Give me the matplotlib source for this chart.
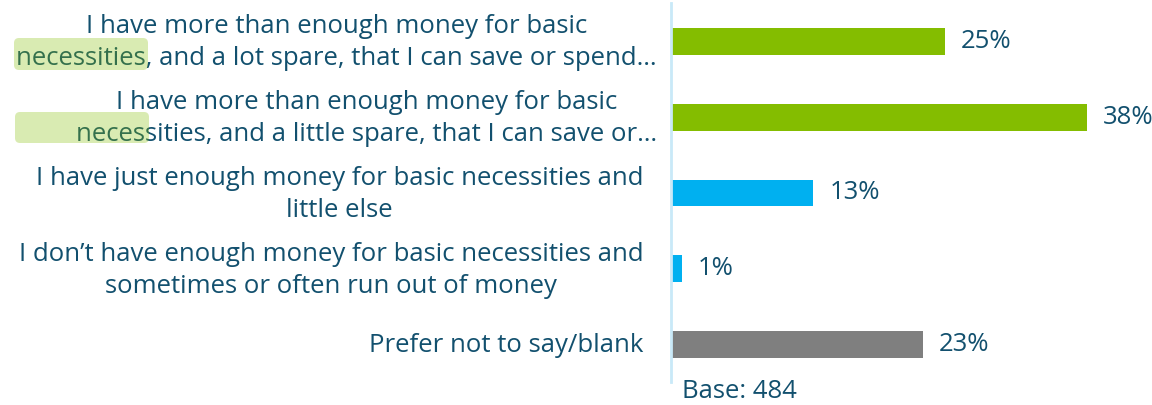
import matplotlib
matplotlib.use("Agg")
import matplotlib.pyplot as plt
from matplotlib.patches import FancyBboxPatch
from matplotlib.transforms import IdentityTransform, blended_transform_factory

plt.rcParams['font.family'] = ['Open Sans', 'DejaVu Sans']

categories = [
    "I have more than enough money for basic\nnecessities, and a lot spare, that I can save or spend\u2026",
    "I have more than enough money for basic\nnecessities, and a little spare, that I can save or\u2026",
    "I have just enough money for basic necessities and\nlittle else",
    "I don\u2019t have enough money for basic necessities and\nsometimes or often run out of money",
    "Prefer not to say/blank",
]
values = [25, 38, 13, 1, 23]
value_labels = ["25%", "38%", "13%", "1%", "23%"]
base_text = "Base: 484"

bar_colors = ["#84BD00", "#84BD00", "#00B0F0", "#00B0F0", "#7F7F7F"]
label_offsets_pt = [-10, -10, -20, -20, -20]
text_color = "#12506E"
fs = 18.5

W, H = 1152, 405
fig = plt.figure(figsize=(W / 100, H / 100), dpi=100)
ax = fig.add_axes([671 / W, 23 / H, 482 / W, 379 / H])

ypos = list(range(len(categories)))
ax.barh(ypos, values, height=0.356, color=bar_colors, left=0)
ax.set_xlim(0, 44)
ax.set_ylim(4.495, -0.508)

for s in ["top", "right", "bottom"]:
    ax.spines[s].set_visible(False)
ax.spines["left"].set_color("#C9E9F8")
ax.spines["left"].set_linewidth(2)
ax.set_xticks([])
ax.set_yticks([])

trans = blended_transform_factory(ax.transAxes, ax.transData)
for i, (lab, off) in enumerate(zip(categories, label_offsets_pt)):
    ax.annotate(lab, xy=(0, i), xycoords=trans, xytext=(off, -1),
                textcoords="offset points", ha="right", va="center",
                multialignment="center", fontsize=fs, color=text_color,
                linespacing=1.38)

for i, (v, t) in enumerate(zip(values, value_labels)):
    ax.annotate(t, xy=(v, i), xytext=(11.5, 0), textcoords="offset points",
                ha="left", va="center", fontsize=fs, color=text_color)

fig.text(682 / W, 1 - 392 / H, base_text, ha="left", va="center",
         fontsize=fs, color=text_color)

# highlight boxes over the word "necessities"
for (x0, y0, x1, y1) in [(14, 38, 148, 70), (15, 112, 149, 143)]:
    p = FancyBboxPatch((x0, H - y1), x1 - x0, y1 - y0,
                       boxstyle="round,pad=0,rounding_size=5",
                       transform=IdentityTransform(), facecolor="#84BD00",
                       alpha=0.3, edgecolor="none", zorder=10)
    fig.patches.append(p)

fig.savefig("out.png", dpi=100)
